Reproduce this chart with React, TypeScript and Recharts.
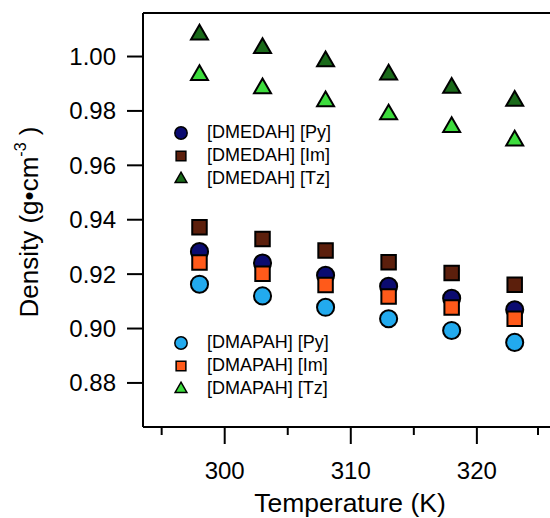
import { ScatterChart, Scatter, XAxis, YAxis, Legend, Symbols, ReferenceLine } from "recharts";

const temps = [298, 303, 308, 313, 318, 323];
const dmedahPy = [0.9283, 0.9241, 0.9196, 0.9155, 0.9111, 0.9069];
const dmedahIm = [0.9372, 0.9329, 0.9287, 0.9244, 0.9204, 0.9161];
const dmedahTz = [1.0081, 1.0031, 0.9982, 0.9934, 0.9885, 0.9837];
const dmapahPy = [0.9163, 0.912, 0.9078, 0.9036, 0.8993, 0.8949];
const dmapahIm = [0.9243, 0.9201, 0.916, 0.9118, 0.9077, 0.9036];
const dmapahTz = [0.9932, 0.9883, 0.9835, 0.9787, 0.9741, 0.9691];

const xTicks = [295, 300, 305, 310, 315, 320, 325];
const yTicks = [0.88, 0.9, 0.92, 0.94, 0.96, 0.98, 1.0];
const xDomain = [293.52, 325.8];
const yDomain = [0.8638, 1.016];

const font = "'Liberation Sans', Arial, Helvetica, sans-serif";

const toPts = (vals: number[]) => temps.map((t, i) => ({ x: t, y: vals[i] }));

const series = [
  { name: "[DMEDAH] [Py]", vals: dmedahPy, shape: "circle", fill: "#0b0b70", size: 230, group: 0 },
  { name: "[DMEDAH] [Im]", vals: dmedahIm, shape: "square", fill: "#5c1f0c", size: 210, group: 0 },
  { name: "[DMEDAH] [Tz]", vals: dmedahTz, shape: "triangle", fill: "#1a6a1a", size: 125, group: 0 },
  { name: "[DMAPAH] [Py]", vals: dmapahPy, shape: "circle", fill: "#22aaee", size: 230, group: 1 },
  { name: "[DMAPAH] [Im]", vals: dmapahIm, shape: "square", fill: "#ff5a1a", size: 210, group: 1 },
  { name: "[DMAPAH] [Tz]", vals: dmapahTz, shape: "triangle", fill: "#3ddc3d", size: 125, group: 1 },
];

const legendSize: Record<string, number> = { circle: 120, square: 95, triangle: 60 };

const XTick = ({ x, y, payload }: any) => {
  const major = payload.value % 10 === 0;
  return (
    <g>
      <line x1={x} x2={x} y1={y} y2={y + (major ? 17 : 8)} stroke="#000" strokeWidth={2} />
      {major && (
        <text x={x} y={y + 52} textAnchor="middle" fontSize={24} fontFamily={font} fill="#000">
          {payload.value}
        </text>
      )}
    </g>
  );
};

const LegendBox = () => {
  const tops = [121, 331];
  return (
    <div style={{ position: "relative", width: 550, height: 518 }}>
      {[0, 1].map(g => (
        <div key={g} style={{ position: "absolute", left: 171, top: tops[g] }}>
          {series.filter(s => s.group === g).map(s => (
            <div key={s.name} style={{ display: "flex", alignItems: "center", height: 23 }}>
              <svg width={20} height={20}>
                <Symbols cx={10} cy={10} type={s.shape as any} size={legendSize[s.shape]}
                  fill={s.fill} stroke="#000" strokeWidth={1.5} />
              </svg>
              <span style={{ marginLeft: 16, fontFamily: font, fontSize: 18, color: "#000" }}>{s.name}</span>
            </div>
          ))}
        </div>
      ))}
    </div>
  );
};

export default function App() {
  return (
    <div style={{ position: "absolute", left: 0, top: 0, width: 550, height: 518, background: "#fff" }}>
      <ScatterChart width={550} height={518} margin={{ top: 13, right: 0, bottom: 0, left: 0 }}>
        <XAxis type="number" dataKey="x" domain={xDomain} ticks={xTicks} allowDataOverflow
          height={91} tickSize={0} tickMargin={0} tickLine={false} tick={<XTick />}
          axisLine={{ stroke: "#000", strokeWidth: 2 }}
          label={{
            content: () => (
              <text x={350} y={512} textAnchor="middle" fontSize={26.5} fontFamily={font} fill="#000">
                Temperature (K)
              </text>
            ),
          }} />
        <YAxis type="number" dataKey="y" domain={yDomain} ticks={yTicks} allowDataOverflow
          width={143} tickSize={16} tickMargin={11}
          tickFormatter={(v: number) => v.toFixed(2)}
          tick={{ fill: "#000", fontSize: 24, fontFamily: font }}
          tickLine={{ stroke: "#000", strokeWidth: 2 }}
          axisLine={{ stroke: "#000", strokeWidth: 2 }}
          label={{
            content: () => (
              <text transform="rotate(-90, 38, 222)" x={38} y={222} textAnchor="middle"
                fontSize={26} fontFamily={font} fill="#000">
                Density (g•cm<tspan dy={-12} fontSize={16}>-3</tspan><tspan dy={12}> )</tspan>
              </text>
            ),
          }} />
        <ReferenceLine y={yDomain[1]} stroke="#000" strokeWidth={2} />
        {series.map(s => (
          <Scatter key={s.name} name={s.name} data={toPts(s.vals)} isAnimationActive={false}
            shape={(p: any) => (
              <Symbols cx={p.cx} cy={p.cy} type={s.shape as any} size={s.size}
                fill={s.fill} stroke="#000" strokeWidth={2} />
            )} />
        ))}
        <Legend layout="vertical" align="center" verticalAlign="middle" content={<LegendBox />}
          wrapperStyle={{ left: 0, top: 0, width: 550, height: 518, pointerEvents: "none" }} />
      </ScatterChart>
    </div>
  );
}
